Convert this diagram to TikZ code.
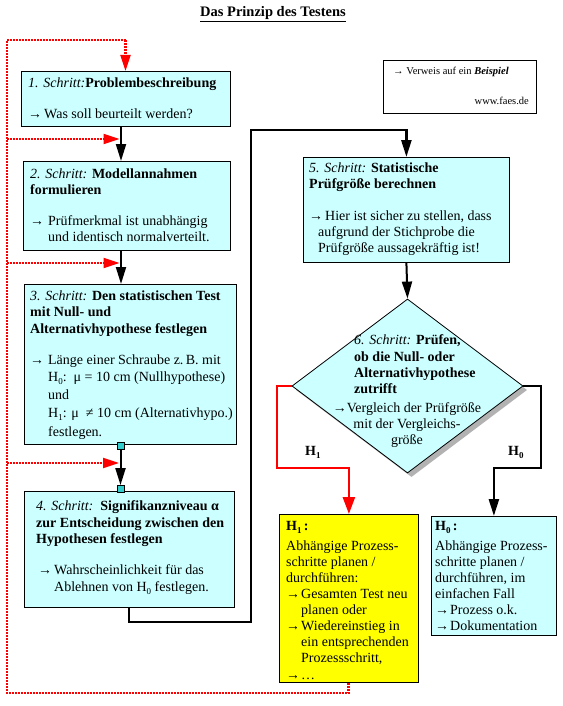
\documentclass[tikz,border=0pt]{standalone}
\usepackage{fontspec}
\setmainfont{Liberation Serif}
\usetikzlibrary{arrows.meta,shapes.geometric}
\definecolor{cyanbg}{HTML}{CCFFFF}
\definecolor{yellowbg}{HTML}{FFFF00}
\definecolor{tealsq}{HTML}{33CCCC}
\definecolor{redc}{HTML}{FF0000}
\newcommand\fs{\rule{0pt}{11pt}}
\newcommand\arr[1][17pt]{\makebox[#1][l]{→}}
\newcommand\ind[1][17pt]{\hspace*{#1}}
\newcommand\sbs[1]{\raisebox{-3.5pt}{\fontsize{9}{9}\selectfont #1}}
\begin{document}
\begin{tikzpicture}[x=1pt,y=-1pt,
  box/.style={draw=black, line width=0.8pt, fill=cyanbg, inner sep=0pt, anchor=north west},
  txt/.style={anchor=north west, inner sep=0pt, align=left, font=\fontsize{14}{16}\selectfont},
  flow/.style={draw=black, line width=2pt, -{Triangle[length=17pt,width=10pt]}},
  redflow/.style={draw=redc, line width=2.5pt, -{Triangle[length=17pt,width=12pt]}},
  reddot/.style={draw=redc, line width=2.2pt, dash pattern=on 2pt off 1pt},
  redtip/.style={-{Triangle[length=16pt,width=10pt]}},
  sq/.style={draw=black, line width=0.8pt, fill=tealsq, minimum size=7pt, inner sep=0pt}]
\path[use as bounding box, fill=white] (0,0) rectangle (562,706);

% title
\node[anchor=base, inner sep=0pt, font=\fontsize{14.5}{17}\selectfont\bfseries] (title) at (273,17) {\underline{Das Prinzip des Testens}};

% reference box
\node[draw=black, line width=0.8pt, fill=white, anchor=north west, minimum width=153pt, minimum height=53pt, inner sep=0pt] (ref) at (383,60) {};
\node[anchor=base west, inner sep=0pt, font=\fontsize{10.5}{12}\selectfont] (reft1) at (393,75) {→ Verweis auf ein \textbf{\textit{Beispiel}}};
\node[anchor=base east, inner sep=0pt, font=\fontsize{10.5}{12}\selectfont] (reft2) at (529,105) {www.faes.de};

% diamond shadow and diamond
\node[diamond, fill=black!30, minimum width=231pt, minimum height=174pt, inner sep=0pt] (dsh) at (411.5,390) {};
\node[diamond, draw=black, line width=0.8pt, fill=cyanbg, minimum width=231pt, minimum height=174pt, inner sep=0pt] (d) at (407.5,386) {};

% boxes
\node[box, minimum width=209pt, minimum height=55pt] (b1) at (21,71) {};
\node[box, minimum width=207pt, minimum height=89pt] (b2) at (23,161) {};
\node[box, minimum width=212pt, minimum height=160pt] (b3) at (24,284) {};
\node[box, minimum width=210pt, minimum height=116pt] (b4) at (24,491) {};
\node[box, minimum width=206pt, minimum height=105pt] (b5) at (303,157) {};
\node[box, fill=yellowbg, minimum width=139pt, minimum height=168pt] (h1) at (279,514) {};
\node[box, minimum width=125pt, minimum height=119pt] (h0) at (431,516) {};

% texts
\node[txt] (t1) at (28,76) {\fs\textit{1. Schritt:}\textbf{Problembeschreibung}\\[15pt]
  \arr[16pt]Was soll beurteilt werden?};
\node[txt] (t2) at (30,167) {\fs\textit{2. Schritt:} \textbf{Modellannahmen}\\
  \textbf{formulieren}\\[15pt]
  \arr[18pt]Prüfmerkmal ist unabhängig\\
  \ind[18pt]und identisch normalverteilt.};
\node[txt] (t3) at (30,289) {\fs\textit{3. Schritt:} \textbf{Den statistischen Test}\\
  \textbf{mit Null- und}\\[1pt]
  \textbf{Alternativhypothese festlegen}\\[15pt]
  \arr[18pt]Länge einer Schraube z.\,B. mit\\[1pt]
  \ind[18pt]H\sbs{0}:\ \ μ = 10 cm (Nullhypothese)\\[2pt]
  \ind[18pt]und\\[2pt]
  \ind[18pt]H\sbs{1}: μ\ \ ≠ 10 cm (Alternativhypo.)\\[3pt]
  \ind[18pt]festlegen.};
\node[txt] (t4) at (36,499) {\fs\textit{4. Schritt:}\ \ \textbf{Signifikanzniveau α}\\[1pt]
  \textbf{zur Entscheidung zwischen den}\\
  \textbf{Hypothesen festlegen}\\[15pt]
  \hspace*{2pt}\arr[16pt]Wahrscheinlichkeit für das\\[1pt]
  \ind[18pt]Ablehnen von H\sbs{0} festlegen.};
\node[txt] (t5) at (309,161) {\fs\textit{5. Schritt:} \textbf{Statistische}\\
  \textbf{Prüfgröße berechnen}\\[16pt]
  \arr[16pt]Hier ist sicher zu stellen, dass\\
  \ind[9pt]aufgrund der Stichprobe die\\
  \ind[9pt]Prüfgröße aussagekräftig ist!};
\node[txt] (t6) at (354,333) {\fs\textit{6. Schritt:} \textbf{Prüfen,}\\[1pt]
  \textbf{ob die Null- oder}\\
  \textbf{Alternativhypothese}\\
  \textbf{zutrifft}};
\node[txt, anchor=north, align=center] (t6b) at (407,401) {\fs→Vergleich der Prüfgröße\\
  mit der Vergleichs-\\
  größe};
\node[txt] (th1) at (286,519) {\fs\textbf{H\sbs{1}\,:}\\[4pt]
  Abhängige Prozess-\\
  schritte planen /\\
  durchführen:\\
  \arr[15pt]Gesamten Test neu\\
  \ind[15pt]planen oder\\
  \arr[15pt]Wiedereinstieg in\\
  \ind[15pt]ein entsprechenden\\
  \ind[15pt]Prozessschritt,\\[1pt]
  \arr[15pt]…};
\node[txt] (th0) at (435,519) {\fs\textbf{H\sbs{0}\,:}\\[4pt]
  Abhängige Prozess-\\
  schritte planen /\\
  durchführen, im\\
  einfachen Fall\\
  \arr[15pt]Prozess o.k.\\
  \arr[15pt]Dokumentation};

% branch labels
\node[anchor=base west, inner sep=0pt, font=\fontsize{14}{16}\selectfont\bfseries] (lh1) at (305,455) {H\sbs{1}};
\node[anchor=base west, inner sep=0pt, font=\fontsize{14}{16}\selectfont\bfseries] (lh0) at (508,455) {H\sbs{0}};

% coordinates
\coordinate (j1) at (121,139);
\coordinate (j2) at (121,263);
\coordinate (j3) at (120.5,463);
\coordinate (L0) at (7,40);
\coordinate (T) at (125.5,40);
\coordinate (L1) at (7,139);
\coordinate (L2) at (7,263);
\coordinate (L3) at (7,463);
\coordinate (LB) at (7,693);
\coordinate (B) at (348.5,693);
\coordinate (j4) at (129,622);
\coordinate (j5) at (251,130);
\coordinate (r1) at (277,468);
\coordinate (k1) at (541,468);

% teal squares
\node[sq] (sq1) at (120.5,446) {};
\node[sq] (sq2) at (120.5,489) {};

% black flow
\draw[flow] (j1 |- b1.south) -- (j1 |- b2.north);
\draw[flow] (j2 |- b2.south) -- (j2 |- b3.north);
\draw[flow] (sq1.south) -- (sq2.north);
\node[sq] (sq1b) at (sq1) {};
\node[sq] (sq2b) at (sq2) {};
\draw[flow, line width=2.5pt] (j4 |- b4.south) -- (j4) -| (j5) -| (b5.north);
\draw[flow] (b5.south) -- (d.north);
\draw[redflow] (d.west) -| (r1) -| (h1.north);
\draw[flow, line width=2.5pt] (d.east) -| (k1) -| (h0.north);

% red dotted loop
\draw[reddot] (B |- h1.south) -- (B) -- (LB) -- (L0) -- (T);
\draw[reddot, redtip] (T) -- (T |- b1.north);
\draw[reddot, redtip, shorten >=1.5pt] (L1) -- (j1);
\draw[reddot, redtip, shorten >=1.5pt] (L2) -- (j2);
\draw[reddot, redtip, shorten >=1.5pt] (L3) -- (j3);
\end{tikzpicture}
\end{document}
